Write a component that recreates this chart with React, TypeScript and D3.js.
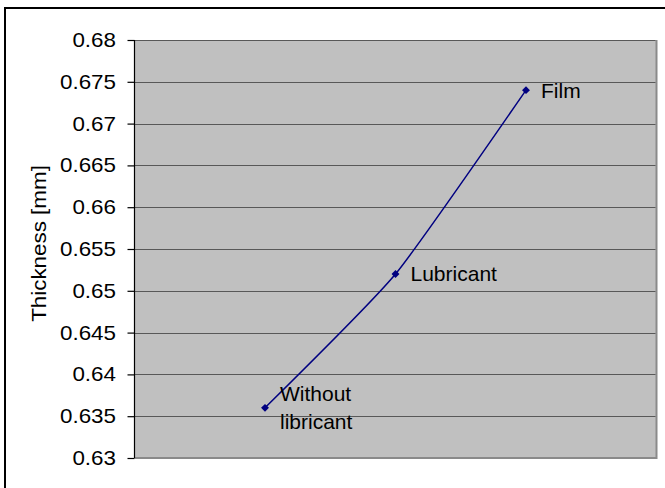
import React, { useEffect, useRef } from "react";
import * as d3 from "d3";

// Measured thickness for each surface condition
const conditions = ["Without\nlibricant", "Lubricant", "Film"];
const positions = [1, 2, 3];
const thickness = [0.636, 0.652, 0.674];
const yTicks = [0.63, 0.635, 0.64, 0.645, 0.65, 0.655, 0.66, 0.665, 0.67, 0.675, 0.68];
const yTitle = "Thickness [mm]";

const W = 665;
const H = 488;
const FONT = "'Liberation Sans', Arial, sans-serif";
// axis text is drawn slightly widened
const STRETCH = 1.12;

export default function App() {
  const ref = useRef<SVGSVGElement | null>(null);

  useEffect(() => {
    const svg = d3.select(ref.current);
    svg.selectAll("*").remove();

    const left = 134.5;
    const right = 656.5;
    const top = 40;
    const bottom = 458;

    const x = d3.scaleLinear().domain([0, 4]).range([left, right]);
    const y = d3.scaleLinear().domain([0.63, 0.68]).range([bottom, top]);

    // chart frame
    svg
      .append("rect")
      .attr("x", 5)
      .attr("y", 8)
      .attr("width", W + 20)
      .attr("height", H + 20)
      .attr("fill", "#fff")
      .attr("stroke", "#000")
      .attr("stroke-width", 2);

    // plot area with its shadowed right/bottom edges
    svg
      .append("rect")
      .attr("x", left)
      .attr("y", top)
      .attr("width", right - left)
      .attr("height", bottom - top)
      .attr("fill", "#c0c0c0");
    svg
      .append("path")
      .attr("d", `M${left},${bottom} H${right} V${top}`)
      .attr("fill", "none")
      .attr("stroke", "#8a8a8a")
      .attr("stroke-width", 2);

    // horizontal gridlines
    svg
      .append("g")
      .selectAll("line")
      .data(yTicks.filter((t) => t > 0.63))
      .join("line")
      .attr("x1", left)
      .attr("x2", right - 1)
      .attr("y1", (d) => Math.round(y(d)) + 0.5)
      .attr("y2", (d) => Math.round(y(d)) + 0.5)
      .attr("stroke", "#585858")
      .attr("stroke-width", 1.2);

    // value axis: line and ticks
    const axis = d3.axisLeft(y).tickValues(yTicks).tickSize(7).tickFormat(() => "");
    const g = svg.append("g").attr("transform", `translate(${left},0)`).call(axis);
    g.select(".domain").attr("stroke", "#000").attr("stroke-width", 1.2).attr("d", `M0,${top}V${bottom}`);
    g.selectAll(".tick line").attr("stroke", "#000").attr("stroke-width", 1.2);

    // tick labels
    svg
      .append("g")
      .attr("font-family", FONT)
      .attr("font-size", 20)
      .attr("fill", "#000")
      .attr("text-anchor", "end")
      .selectAll("text")
      .data(yTicks)
      .join("text")
      .attr("transform", (d) => `translate(116,${y(d)}) scale(${STRETCH},1)`)
      .attr("dy", "0.35em")
      .text((d) => String(+d.toFixed(3)));

    // axis title
    svg
      .append("text")
      .attr("transform", `translate(46,243.5) rotate(-90) scale(${STRETCH},1)`)
      .attr("text-anchor", "middle")
      .attr("font-family", FONT)
      .attr("font-size", 20)
      .attr("fill", "#000")
      .text(yTitle);

    const pts = positions.map((p, i) => [x(p), y(thickness[i])] as [number, number]);

    // smoothed series line
    const line = d3.line().curve(d3.curveCardinal.tension(0.5));
    svg
      .append("path")
      .attr("d", line(pts) || "")
      .attr("fill", "none")
      .attr("stroke", "#000080")
      .attr("stroke-width", 1.5);

    // diamond markers
    const diamond = d3.symbol().type(d3.symbolDiamond2).size(40);
    svg
      .append("g")
      .selectAll("path")
      .data(pts)
      .join("path")
      .attr("transform", (d) => `translate(${d[0]},${d[1]})`)
      .attr("d", diamond() || "")
      .attr("fill", "#000080");

    // point labels
    const lineH = 27.5;
    const labels = svg.append("g").attr("font-family", FONT).attr("font-size", 21).attr("fill", "#000");
    conditions.forEach((c, i) => {
      const lines = c.split("\n");
      const t = labels
        .append("text")
        .attr("x", pts[i][0] + 15)
        .attr("y", pts[i][1] - ((lines.length - 1) * lineH) / 2);
      lines.forEach((ln, k) => {
        t.append("tspan")
          .attr("x", pts[i][0] + 15)
          .attr("dy", k === 0 ? "0.35em" : lineH)
          .text(ln);
      });
    });
  }, []);

  return (
    <svg
      ref={ref}
      width={W}
      height={H}
      style={{ position: "absolute", left: 0, top: 0, background: "#fff" }}
    />
  );
}
